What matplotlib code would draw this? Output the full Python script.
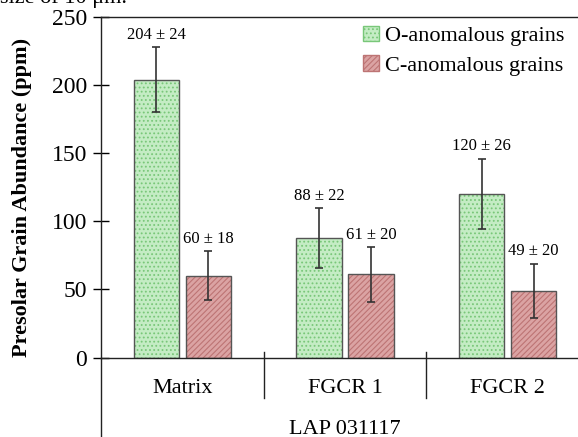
import numpy as np
import matplotlib
matplotlib.use("Agg")
import matplotlib.pyplot as plt
from matplotlib.lines import Line2D
from matplotlib.patches import Patch

plt.rcParams["font.family"] = ["Liberation Serif", "DejaVu Serif"]
plt.rcParams["hatch.linewidth"] = 0.8

## data
categories = ["Matrix", "FGCR 1", "FGCR 2"]
o_vals = [204, 88, 120]
o_errs = [24, 22, 26]
c_vals = [60, 61, 49]
c_errs = [18, 20, 20]
group_label = "LAP 031117"
yticks = [0, 50, 100, 150, 200, 250]

GREEN_FACE = "#c4ecc4"
GREEN_HATCH = "#79c779"
RED_FACE = "#dba3a3"
RED_HATCH = "#bd7474"
EDGE = "#555555"

fig = plt.figure(figsize=(5.78, 4.37), dpi=100)
# axes box runs past the right edge of the picture (cropped original)
ax = fig.add_axes([101 / 578, 1 - 357.5 / 437, 488 / 578, 340.5 / 437])

x = np.arange(len(categories))
w = 0.277
off = 0.16

def draw_bars(xpos, vals, errs, face, hatch_col, hatch):
    ax.bar(xpos, vals, w, color=face, edgecolor=hatch_col, hatch=hatch, linewidth=0)
    ax.bar(xpos, vals, w, fill=False, edgecolor=EDGE, linewidth=1.0)
    ax.errorbar(xpos, vals, yerr=errs, fmt="none", ecolor="#333333",
                elinewidth=1.2, capsize=3, capthick=1.2)
    for xi, v, e in zip(xpos, vals, errs):
        ax.annotate("{} ± {}".format(v, e), (xi, v + e), xytext=(0, 3),
                    textcoords="offset points", ha="center", va="bottom", fontsize=12)

draw_bars(x - off, o_vals, o_errs, GREEN_FACE, GREEN_HATCH, "....")
draw_bars(x + off, c_vals, c_errs, RED_FACE, RED_HATCH, "//////")

ax.set_xlim(-0.5, 2.5)
ax.set_ylim(0, 250)
ax.set_yticks(yticks)
ax.tick_params(axis="y", direction="inout", length=12, width=1.0, labelsize=17, pad=4)
ax.set_xticks([])
for s in ["left", "top", "bottom", "right"]:
    ax.spines[s].set_linewidth(1.0)
    ax.spines[s].set_color("#222222")

# category box below the axis
trans = ax.get_xaxis_transform()
ax.add_line(Line2D([-0.5, -0.5], [0, -0.25], transform=trans, color="#222222",
                   linewidth=1.0, clip_on=False))
for sep in [0.5, 1.5]:
    ax.add_line(Line2D([sep, sep], [0.016, -0.119], transform=trans, color="#222222",
                       linewidth=1.0, clip_on=False))
for xi, name in zip(x, categories):
    ax.text(xi, -0.092, name, transform=trans, ha="center", va="center", fontsize=16)
ax.text(1.0, -0.21, group_label, transform=trans, ha="center", va="center", fontsize=16)

fig.text(22 / 578, 1 - 197 / 437, "Presolar Grain Abundance (ppm)", rotation=90,
         ha="center", va="center", fontsize=16, fontweight="bold")

# caption line cut by the top of the picture
fig.text(0.0, 1 + 2 / 437, "size of 10 μm.", ha="left", va="center", fontsize=16)

handles = [Patch(facecolor=GREEN_FACE, edgecolor=GREEN_HATCH, hatch="...."),
           Patch(facecolor=RED_FACE, edgecolor=RED_HATCH, hatch="//////")]
fig.legend(handles, ["O-anomalous grains", "C-anomalous grains"], loc="upper right",
           bbox_to_anchor=(1.0, 0.972), borderaxespad=0.2, frameon=False, fontsize=16,
           handlelength=0.7, handleheight=0.7, handletextpad=0.3, labelspacing=0.4)

fig.savefig("out.png", dpi=100)
